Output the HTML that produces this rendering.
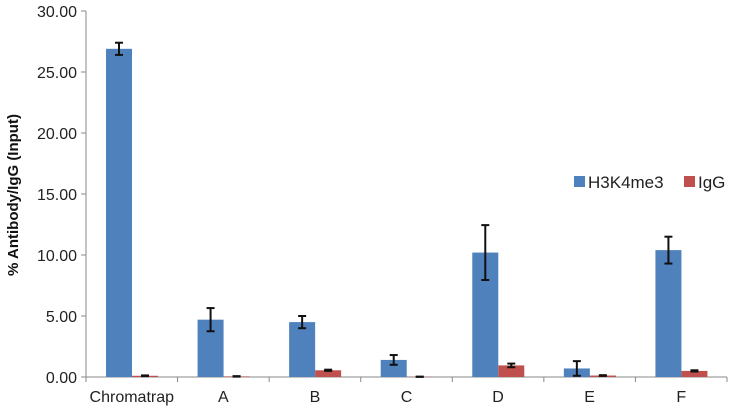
<!DOCTYPE html>
<html><head><meta charset="utf-8"><style>
body{margin:0;background:#fff;}
svg text{font-family:"Liberation Sans",sans-serif;}
</style></head><body>
<svg id="chart" width="732" height="414" viewBox="0 0 732 414" xmlns="http://www.w3.org/2000/svg">
<g id="axes"></g><g id="bars"></g>
<text transform="translate(18,195) rotate(-90)" text-anchor="middle" font-size="15" font-weight="bold" fill="#111">% Antibody/IgG (Input)</text>
<g>
<rect x="574" y="176" width="11" height="11" fill="#4f81bd"/>
<text x="588" y="188" font-size="17" fill="#222">H3K4me3</text>
<rect x="684" y="176" width="11" height="11" fill="#c0504d"/>
<text x="698" y="188" font-size="17" fill="#222">IgG</text>
</g>
</svg>
<script>
const categories=["Chromatrap","A","B","C","D","E","F"];
const h3Values=[26.9,4.7,4.5,1.4,10.2,0.7,10.4];
const h3Err=[0.5,0.95,0.5,0.4,2.25,0.6,1.1];
const iggValues=[0.1,0.05,0.55,0.02,0.95,0.12,0.5];
const iggErr=[0.03,0.02,0.05,0.01,0.15,0.03,0.05];
const yTicks=[0,5,10,15,20,25,30];
const NS="http://www.w3.org/2000/svg";
const x0=86,x1=727,y0=377,yTop=11,ymax=30;
const cw=(x1-x0)/categories.length;
function yS(v){return y0-(v/ymax)*(y0-yTop);}
function mk(tag,attrs,parent){const e=document.createElementNS(NS,tag);for(const k in attrs)e.setAttribute(k,attrs[k]);parent.appendChild(e);return e;}
const ax=document.getElementById('axes'),bg=document.getElementById('bars');
let l=mk('line',{x1:x0,y1:yTop,x2:x0,y2:y0,stroke:'#888','stroke-width':1},ax);


l=mk('line',{x1:x0,y1:y0,x2:x1,y2:y0,stroke:'#888','stroke-width':1},ax);


yTicks.forEach(t=>{const y=yS(t);
 const tk=mk('line',{x1:x0-5,y1:y,x2:x0,y2:y,stroke:'#888'},ax);
 
 
 const tx=mk('text',{x:x0-9,y:y+6,'text-anchor':'end','font-size':'16',fill:'#222'},ax);
 tx.textContent=t.toFixed(2);
 
 
});
for(let i=0;i<=categories.length;i++){const x=x0+i*cw;
 const tk=mk('line',{x1:x,y1:y0,x2:x,y2:y0+5,stroke:'#888'},ax);
 
 }
const bw=26;
function errBar(cx,v,e,name){const g=mk('g',{stroke:'#111','stroke-width':2},bg);
 
 
 const a=yS(v+e),b=yS(Math.max(0,v-e));
 mk('line',{x1:cx,y1:a,x2:cx,y2:b},g);mk('line',{x1:cx-4,y1:a,x2:cx+4,y2:a},g);mk('line',{x1:cx-4,y1:b,x2:cx+4,y2:b},g);}
categories.forEach((c,i)=>{const gx=x0+i*cw+20;
 let r=mk('rect',{x:gx,y:yS(h3Values[i]),width:bw,height:y0-yS(h3Values[i]),fill:'#4f81bd'},bg);
 
 
 r=mk('rect',{x:gx+bw,y:yS(iggValues[i]),width:bw,height:y0-yS(iggValues[i]),fill:'#c0504d'},bg);
 
 
 errBar(gx+bw/2,h3Values[i],h3Err[i],'error-bar-h3k4me3-'+c.toLowerCase());
 errBar(gx+bw*1.5,iggValues[i],iggErr[i],'error-bar-igg-'+c.toLowerCase());
 const t=mk('text',{x:x0+i*cw+cw/2,y:y0+25,'text-anchor':'middle','font-size':'16',fill:'#222'},bg);
 t.textContent=c;
 
 
});
</script>
</body></html>
